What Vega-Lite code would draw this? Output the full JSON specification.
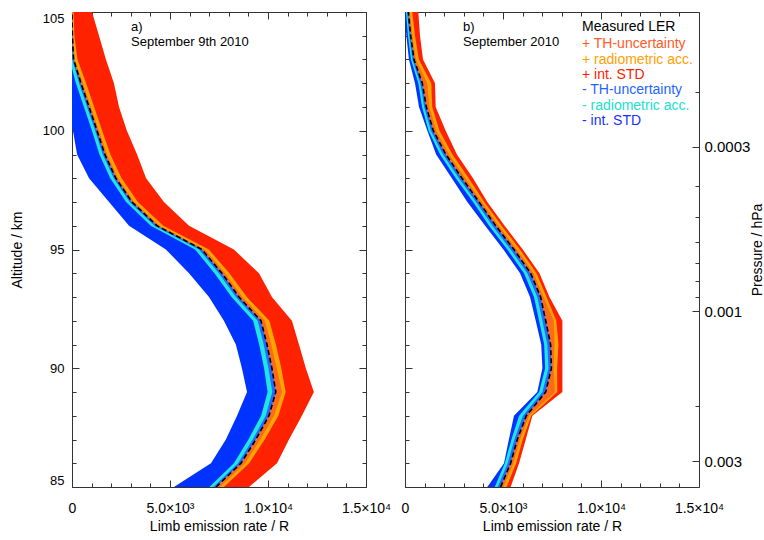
{
  "$schema": "https://vega.github.io/schema/vega-lite/v6.json",
  "padding": {"left": 10, "top": 11, "right": 0, "bottom": 2},
  "config": {
    "font": "Liberation Sans",
    "view": {"stroke": null},
    "axis": {"domainColor": "#333", "tickColor": "#333", "labelColor": "#000", "titleColor": "#000", "labelFontSize": 14, "titleFontSize": 14, "titleFontWeight": "normal", "grid": false, "labelFont": "Liberation Sans", "titleFont": "Liberation Sans", "labelOverlap": false},
    "text": {"font": "Liberation Sans", "fontSize": 13, "align": "left", "baseline": "middle"}
  },
  "datasets": {
    "a": [
      {"alt": 105, "c": 0, "th_p": 30, "rad_p": 80, "std_p": 1020, "th_m": -30, "rad_m": -80, "std_m": -500},
      {"alt": 104, "c": 20, "th_p": 60, "rad_p": 120, "std_p": 1380, "th_m": -20, "rad_m": -80, "std_m": -600},
      {"alt": 103, "c": 80, "th_p": 140, "rad_p": 280, "std_p": 1730, "th_m": 20, "rad_m": -120, "std_m": -700},
      {"alt": 102, "c": 460, "th_p": 560, "rad_p": 720, "std_p": 2140, "th_m": 360, "rad_m": 200, "std_m": -400},
      {"alt": 101, "c": 870, "th_p": 970, "rad_p": 1130, "std_p": 2400, "th_m": 770, "rad_m": 610, "std_m": -250},
      {"alt": 100, "c": 1280, "th_p": 1380, "rad_p": 1540, "std_p": 2800, "th_m": 1180, "rad_m": 1020, "std_m": 50},
      {"alt": 99, "c": 1680, "th_p": 1790, "rad_p": 1960, "std_p": 3320, "th_m": 1570, "rad_m": 1400, "std_m": 260},
      {"alt": 98, "c": 2240, "th_p": 2350, "rad_p": 2530, "std_p": 3780, "th_m": 2130, "rad_m": 1950, "std_m": 870},
      {"alt": 97, "c": 3060, "th_p": 3180, "rad_p": 3360, "std_p": 4690, "th_m": 2940, "rad_m": 2760, "std_m": 1890},
      {"alt": 96, "c": 4340, "th_p": 4470, "rad_p": 4660, "std_p": 5970, "th_m": 4210, "rad_m": 4020, "std_m": 2910},
      {"alt": 95, "c": 6630, "th_p": 6780, "rad_p": 6980, "std_p": 8260, "th_m": 6480, "rad_m": 6280, "std_m": 4790},
      {"alt": 94, "c": 7650, "th_p": 7810, "rad_p": 8030, "std_p": 9540, "th_m": 7490, "rad_m": 7270, "std_m": 5970},
      {"alt": 93, "c": 8520, "th_p": 8700, "rad_p": 8920, "std_p": 10200, "th_m": 8360, "rad_m": 8140, "std_m": 6990},
      {"alt": 92, "c": 9640, "th_p": 9840, "rad_p": 10070, "std_p": 11220, "th_m": 9470, "rad_m": 9240, "std_m": 7750},
      {"alt": 91, "c": 9950, "th_p": 10170, "rad_p": 10400, "std_p": 11580, "th_m": 9780, "rad_m": 9550, "std_m": 8360},
      {"alt": 90, "c": 10200, "th_p": 10450, "rad_p": 10680, "std_p": 11930, "th_m": 10020, "rad_m": 9800, "std_m": 8670},
      {"alt": 89, "c": 10400, "th_p": 10720, "rad_p": 10900, "std_p": 12340, "th_m": 10220, "rad_m": 9980, "std_m": 8930},
      {"alt": 88, "c": 10050, "th_p": 10310, "rad_p": 10530, "std_p": 11730, "th_m": 9880, "rad_m": 9650, "std_m": 8420},
      {"alt": 87, "c": 9380, "th_p": 9610, "rad_p": 9830, "std_p": 11070, "th_m": 9220, "rad_m": 9000, "std_m": 7850},
      {"alt": 86, "c": 8620, "th_p": 8840, "rad_p": 9040, "std_p": 10460, "th_m": 8470, "rad_m": 8260, "std_m": 7090},
      {"alt": 85, "c": 7350, "th_p": 7550, "rad_p": 7750, "std_p": 9030, "th_m": 7210, "rad_m": 7010, "std_m": 5200}
    ],
    "b": [
      {"alt": 105, "c": 170, "th_p": 250, "rad_p": 370, "std_p": 680, "th_m": 110, "rad_m": 50, "std_m": -30},
      {"alt": 104, "c": 290, "th_p": 380, "rad_p": 510, "std_p": 765, "th_m": 220, "rad_m": 150, "std_m": 70},
      {"alt": 103, "c": 460, "th_p": 560, "rad_p": 710, "std_p": 920, "th_m": 380, "rad_m": 300, "std_m": 200},
      {"alt": 102, "c": 884, "th_p": 1140, "rad_p": 1340, "std_p": 1530, "th_m": 780, "rad_m": 680, "std_m": 510},
      {"alt": 101, "c": 1090, "th_p": 1240, "rad_p": 1390, "std_p": 1565, "th_m": 980, "rad_m": 870, "std_m": 715},
      {"alt": 100, "c": 1445, "th_p": 1600, "rad_p": 1760, "std_p": 2075, "th_m": 1320, "rad_m": 1200, "std_m": 1140},
      {"alt": 99, "c": 2090, "th_p": 2250, "rad_p": 2420, "std_p": 2650, "th_m": 1940, "rad_m": 1790, "std_m": 1590},
      {"alt": 98, "c": 2910, "th_p": 3080, "rad_p": 3250, "std_p": 3470, "th_m": 2750, "rad_m": 2590, "std_m": 2390},
      {"alt": 97, "c": 3775, "th_p": 3915, "rad_p": 4045, "std_p": 4200, "th_m": 3625, "rad_m": 3475, "std_m": 3180},
      {"alt": 96, "c": 4630, "th_p": 4780, "rad_p": 4930, "std_p": 5080, "th_m": 4460, "rad_m": 4290, "std_m": 4090},
      {"alt": 95, "c": 5560, "th_p": 5710, "rad_p": 5860, "std_p": 6010, "th_m": 5390, "rad_m": 5220, "std_m": 5020},
      {"alt": 94, "c": 6410, "th_p": 6560, "rad_p": 6710, "std_p": 6860, "th_m": 6240, "rad_m": 6070, "std_m": 5870},
      {"alt": 93, "c": 6920, "th_p": 7070, "rad_p": 7220, "std_p": 7370, "th_m": 6750, "rad_m": 6580, "std_m": 6380},
      {"alt": 92, "c": 7180, "th_p": 7590, "rad_p": 7720, "std_p": 8030, "th_m": 7010, "rad_m": 6840, "std_m": 6670},
      {"alt": 91, "c": 7430, "th_p": 7630, "rad_p": 7830, "std_p": 8030, "th_m": 7260, "rad_m": 7100, "std_m": 6950},
      {"alt": 90, "c": 7470, "th_p": 7590, "rad_p": 7760, "std_p": 8030, "th_m": 7320, "rad_m": 7150, "std_m": 7010},
      {"alt": 89, "c": 7180, "th_p": 7650, "rad_p": 7770, "std_p": 8030, "th_m": 7010, "rad_m": 6840, "std_m": 6750},
      {"alt": 88, "c": 6190, "th_p": 6330, "rad_p": 6440, "std_p": 6500, "th_m": 6020, "rad_m": 5820, "std_m": 5560},
      {"alt": 87, "c": 5730, "th_p": 5870, "rad_p": 6010, "std_p": 6160, "th_m": 5580, "rad_m": 5430, "std_m": 5300},
      {"alt": 86, "c": 5390, "th_p": 5530, "rad_p": 5670, "std_p": 5820, "th_m": 5240, "rad_m": 5090, "std_m": 5050},
      {"alt": 85, "c": 4880, "th_p": 5030, "rad_p": 5180, "std_p": 5390, "th_m": 4730, "rad_m": 4580, "std_m": 4200}
    ],
    "one": [{}]
  },
  "spacing": 39,
  "bounds": "flush",
  "hconcat": [
    {
      "width": 294, "height": 475,
      "layer": [
        {"data": {"name": "a"}, "mark": {"type": "area", "orient": "horizontal", "color": "#ff2200", "clip": true},
         "encoding": {
           "y": {"field": "alt", "type": "quantitative", "scale": {"domain": [85, 105], "nice": false, "zero": false},
             "axis": {"orient": "left", "values": [85, 90, 95, 100, 105], "labelFontSize": 13, "tickSize": -7, "labelPadding": 15, "labelFlush": true, "title": "Altitude / km", "titlePadding": 18}},
           "x": {"field": "c", "type": "quantitative", "scale": {"domain": [0, 15000], "nice": false, "zero": false},
             "axis": {"orient": "bottom", "values": [0, 5000, 10000, 15000], "labelExpr": "datum.value === 0 ? '0' : datum.value === 5000 ? '5.0×10³' : datum.value === 10000 ? '1.0×10⁴' : '1.5×10⁴'", "tickSize": -7, "labelPadding": 21, "labelFlush": false, "title": "Limb emission rate / R", "titlePadding": 4}},
           "x2": {"field": "std_p"}}},
        {"data": {"name": "a"}, "mark": {"type": "area", "orient": "horizontal", "color": "#0033ff", "clip": true},
         "encoding": {"y": {"field": "alt", "type": "quantitative", "axis": null}, "x": {"field": "std_m", "type": "quantitative", "axis": null}, "x2": {"field": "c"}}},
        {"data": {"name": "a"}, "mark": {"type": "area", "orient": "horizontal", "color": "#ffa500", "clip": true},
         "encoding": {"y": {"field": "alt", "type": "quantitative", "axis": null}, "x": {"field": "c", "type": "quantitative", "axis": null}, "x2": {"field": "rad_p"}}},
        {"data": {"name": "a"}, "mark": {"type": "area", "orient": "horizontal", "color": "#ff6a1a", "clip": true},
         "encoding": {"y": {"field": "alt", "type": "quantitative", "axis": null}, "x": {"field": "c", "type": "quantitative", "axis": null}, "x2": {"field": "th_p"}}},
        {"data": {"name": "a"}, "mark": {"type": "area", "orient": "horizontal", "color": "#1ee6e0", "clip": true},
         "encoding": {"y": {"field": "alt", "type": "quantitative", "axis": null}, "x": {"field": "rad_m", "type": "quantitative", "axis": null}, "x2": {"field": "c"}}},
        {"data": {"name": "a"}, "mark": {"type": "area", "orient": "horizontal", "color": "#2a66ff", "clip": true},
         "encoding": {"y": {"field": "alt", "type": "quantitative", "axis": null}, "x": {"field": "th_m", "type": "quantitative", "axis": null}, "x2": {"field": "c"}}},
        {"data": {"name": "a"}, "mark": {"type": "line", "color": "#000", "strokeWidth": 1.6, "strokeDash": [5, 3], "clip": true},
         "encoding": {"y": {"field": "alt", "type": "quantitative", "axis": null}, "x": {"field": "c", "type": "quantitative", "axis": null}, "order": {"field": "alt", "type": "quantitative"}}},
        {"data": {"name": "one"}, "mark": {"type": "text"}, "encoding": {"x": {"datum": 3010, "type": "quantitative", "axis": null}, "y": {"datum": 104.37, "type": "quantitative", "axis": null}, "text": {"value": "a)"}}},
        {"data": {"name": "one"}, "mark": {"type": "text"}, "encoding": {"x": {"datum": 3010, "type": "quantitative", "axis": null}, "y": {"datum": 103.74, "type": "quantitative", "axis": null}, "text": {"value": "September 9th 2010"}}},
        {"data": {"name": "one"}, "mark": {"type": "point", "opacity": 0},
         "encoding": {
           "x": {"datum": 0, "type": "quantitative", "axis": {"orient": "top", "values": [0, 5000, 10000, 15000], "labels": false, "title": null, "tickSize": -7}},
           "y": {"datum": 95, "type": "quantitative", "axis": {"orient": "right", "values": [85, 90, 95, 100, 105], "labels": false, "title": null, "tickSize": -7}}}},
        {"data": {"name": "one"}, "mark": {"type": "point", "opacity": 0},
         "encoding": {
           "x": {"datum": 0, "type": "quantitative", "axis": {"orient": "bottom", "values": [1000,2000,3000,4000,6000,7000,8000,9000,11000,12000,13000,14000], "labels": false, "title": null, "domain": false, "tickSize": -4}},
           "y": {"datum": 95, "type": "quantitative", "axis": {"orient": "left", "values": [86,87,88,89,91,92,93,94,96,97,98,99,101,102,103,104], "labels": false, "title": null, "domain": false, "tickSize": -4}}}},
        {"data": {"name": "one"}, "mark": {"type": "point", "opacity": 0},
         "encoding": {
           "x": {"datum": 0, "type": "quantitative", "axis": {"orient": "top", "values": [1000,2000,3000,4000,6000,7000,8000,9000,11000,12000,13000,14000], "labels": false, "title": null, "domain": false, "tickSize": -4}},
           "y": {"datum": 95, "type": "quantitative", "axis": {"orient": "right", "values": [86,87,88,89,91,92,93,94,96,97,98,99,101,102,103,104], "labels": false, "title": null, "domain": false, "tickSize": -4}}}}
      ],
      "resolve": {"axis": {"x": "independent", "y": "independent"}}
    },
    {
      "width": 294, "height": 475,
      "layer": [
        {"data": {"name": "b"}, "mark": {"type": "area", "orient": "horizontal", "color": "#ff2200", "clip": true},
         "encoding": {
           "y": {"field": "alt", "type": "quantitative", "scale": {"domain": [85, 105], "nice": false, "zero": false},
             "axis": {"orient": "left", "values": [85, 90, 95, 100, 105], "labels": false, "tickSize": -7, "title": null}},
           "x": {"field": "c", "type": "quantitative", "scale": {"domain": [0, 15000], "nice": false, "zero": false},
             "axis": {"orient": "bottom", "values": [0, 5000, 10000, 15000], "labelExpr": "datum.value === 0 ? '0' : datum.value === 5000 ? '5.0×10³' : datum.value === 10000 ? '1.0×10⁴' : '1.5×10⁴'", "tickSize": -7, "labelPadding": 21, "labelFlush": false, "title": "Limb emission rate / R", "titlePadding": 4}},
           "x2": {"field": "std_p"}}},
        {"data": {"name": "b"}, "mark": {"type": "area", "orient": "horizontal", "color": "#0033ff", "clip": true},
         "encoding": {"y": {"field": "alt", "type": "quantitative", "scale": {"domain": [85, 105], "nice": false, "zero": false}, "axis": null}, "x": {"field": "std_m", "type": "quantitative", "axis": null}, "x2": {"field": "c"}}},
        {"data": {"name": "b"}, "mark": {"type": "area", "orient": "horizontal", "color": "#ffa500", "clip": true},
         "encoding": {"y": {"field": "alt", "type": "quantitative", "scale": {"domain": [85, 105], "nice": false, "zero": false}, "axis": null}, "x": {"field": "c", "type": "quantitative", "axis": null}, "x2": {"field": "rad_p"}}},
        {"data": {"name": "b"}, "mark": {"type": "area", "orient": "horizontal", "color": "#ff6a1a", "clip": true},
         "encoding": {"y": {"field": "alt", "type": "quantitative", "scale": {"domain": [85, 105], "nice": false, "zero": false}, "axis": null}, "x": {"field": "c", "type": "quantitative", "axis": null}, "x2": {"field": "th_p"}}},
        {"data": {"name": "b"}, "mark": {"type": "area", "orient": "horizontal", "color": "#1ee6e0", "clip": true},
         "encoding": {"y": {"field": "alt", "type": "quantitative", "scale": {"domain": [85, 105], "nice": false, "zero": false}, "axis": null}, "x": {"field": "rad_m", "type": "quantitative", "axis": null}, "x2": {"field": "c"}}},
        {"data": {"name": "b"}, "mark": {"type": "area", "orient": "horizontal", "color": "#2a66ff", "clip": true},
         "encoding": {"y": {"field": "alt", "type": "quantitative", "scale": {"domain": [85, 105], "nice": false, "zero": false}, "axis": null}, "x": {"field": "th_m", "type": "quantitative", "axis": null}, "x2": {"field": "c"}}},
        {"data": {"name": "b"}, "mark": {"type": "line", "color": "#000", "strokeWidth": 1.6, "strokeDash": [5, 3], "clip": true},
         "encoding": {"y": {"field": "alt", "type": "quantitative", "scale": {"domain": [85, 105], "nice": false, "zero": false}, "axis": null}, "x": {"field": "c", "type": "quantitative", "axis": null}, "order": {"field": "alt", "type": "quantitative"}}},
        {"data": {"name": "one"}, "mark": {"type": "text"}, "encoding": {"x": {"datum": 2960, "type": "quantitative", "axis": null}, "y": {"datum": 104.37, "type": "quantitative", "scale": {"domain": [85, 105], "nice": false, "zero": false}, "axis": null}, "text": {"value": "b)"}}},
        {"data": {"name": "one"}, "mark": {"type": "text"}, "encoding": {"x": {"datum": 2960, "type": "quantitative", "axis": null}, "y": {"datum": 103.74, "type": "quantitative", "scale": {"domain": [85, 105], "nice": false, "zero": false}, "axis": null}, "text": {"value": "September 2010"}}},
        {"data": {"name": "one"}, "mark": {"type": "text", "color": "#000", "fontSize": 14}, "encoding": {"x": {"datum": 9030, "type": "quantitative", "axis": null}, "y": {"datum": 104.37, "type": "quantitative", "scale": {"domain": [85, 105], "nice": false, "zero": false}, "axis": null}, "text": {"value": "Measured LER"}}},
        {"data": {"name": "one"}, "mark": {"type": "text", "color": "#ff5a28", "fontSize": 14}, "encoding": {"x": {"datum": 9030, "type": "quantitative", "axis": null}, "y": {"datum": 103.64, "type": "quantitative", "scale": {"domain": [85, 105], "nice": false, "zero": false}, "axis": null}, "text": {"value": "+  TH-uncertainty"}}},
        {"data": {"name": "one"}, "mark": {"type": "text", "color": "#ffa000", "fontSize": 14}, "encoding": {"x": {"datum": 9030, "type": "quantitative", "axis": null}, "y": {"datum": 103.0, "type": "quantitative", "scale": {"domain": [85, 105], "nice": false, "zero": false}, "axis": null}, "text": {"value": "+  radiometric acc."}}},
        {"data": {"name": "one"}, "mark": {"type": "text", "color": "#ff1a00", "fontSize": 14}, "encoding": {"x": {"datum": 9030, "type": "quantitative", "axis": null}, "y": {"datum": 102.35, "type": "quantitative", "scale": {"domain": [85, 105], "nice": false, "zero": false}, "axis": null}, "text": {"value": "+  int. STD"}}},
        {"data": {"name": "one"}, "mark": {"type": "text", "color": "#1e64ff", "fontSize": 14}, "encoding": {"x": {"datum": 9030, "type": "quantitative", "axis": null}, "y": {"datum": 101.7, "type": "quantitative", "scale": {"domain": [85, 105], "nice": false, "zero": false}, "axis": null}, "text": {"value": "-   TH-uncertainty"}}},
        {"data": {"name": "one"}, "mark": {"type": "text", "color": "#20e0d0", "fontSize": 14}, "encoding": {"x": {"datum": 9030, "type": "quantitative", "axis": null}, "y": {"datum": 101.05, "type": "quantitative", "scale": {"domain": [85, 105], "nice": false, "zero": false}, "axis": null}, "text": {"value": "-   radiometric acc."}}},
        {"data": {"name": "one"}, "mark": {"type": "text", "color": "#1a30ff", "fontSize": 14}, "encoding": {"x": {"datum": 9030, "type": "quantitative", "axis": null}, "y": {"datum": 100.41, "type": "quantitative", "scale": {"domain": [85, 105], "nice": false, "zero": false}, "axis": null}, "text": {"value": "-   int. STD"}}},
        {"data": {"name": "one"}, "mark": {"type": "point", "opacity": 0},
         "encoding": {
           "x": {"datum": 0, "type": "quantitative", "axis": {"orient": "top", "values": [0, 5000, 10000, 15000], "labels": false, "title": null, "tickSize": -7}},
           "y": {"datum": 0.001, "type": "quantitative", "scale": {"type": "log", "domain": [0.0001115, 0.00363], "reverse": true, "nice": false},
             "axis": {"orient": "right", "values": [0.0003, 0.001, 0.003], "labelExpr": "datum.value == 0.0003 ? '0.0003' : datum.value == 0.001 ? '0.001' : '0.003'", "tickSize": -7, "labelPadding": 12, "labelFontSize": 15, "labelFlush": false, "title": "Pressure / hPa", "titleAngle": 270, "titlePadding": 15}}}},
        {"data": {"name": "one"}, "mark": {"type": "point", "opacity": 0},
         "encoding": {
           "x": {"datum": 0, "type": "quantitative", "axis": {"orient": "bottom", "values": [1000,2000,3000,4000,6000,7000,8000,9000,11000,12000,13000,14000], "labels": false, "title": null, "domain": false, "tickSize": -4}},
           "y": {"datum": 95, "type": "quantitative", "scale": {"domain": [85, 105], "nice": false, "zero": false}, "axis": {"orient": "left", "values": [86,87,88,89,91,92,93,94,96,97,98,99,101,102,103,104], "labels": false, "title": null, "domain": false, "tickSize": -4}}}},
        {"data": {"name": "one"}, "mark": {"type": "point", "opacity": 0},
         "encoding": {
           "x": {"datum": 0, "type": "quantitative", "axis": {"orient": "top", "values": [1000,2000,3000,4000,6000,7000,8000,9000,11000,12000,13000,14000], "labels": false, "title": null, "domain": false, "tickSize": -4}},
           "y": {"datum": 0.001, "type": "quantitative", "scale": {"type": "log", "domain": [0.0001115, 0.00363], "reverse": true, "nice": false}, "axis": {"orient": "right", "values": [0.0002, 0.0004, 0.0005, 0.0006, 0.0007, 0.0008, 0.0009, 0.002], "labels": false, "title": null, "domain": false, "tickSize": -4}}}}
      ],
      "resolve": {"scale": {"y": "independent"}, "axis": {"x": "independent", "y": "independent"}}
    }
  ]
}
